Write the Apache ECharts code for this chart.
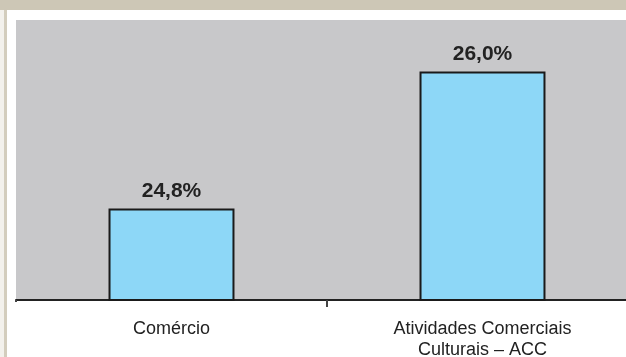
<!DOCTYPE html>
<html>
<head>
    <meta charset="UTF-8">
    <title>Comércio x ACC</title>
    <script type="text/javascript" src="https://cdn.jsdelivr.net/npm/echarts@6/dist/echarts.min.js"></script>
    <style type="text/css">
        html, body { margin: 0; padding: 0; background: #fff; }
        #chart { width: 626px; height: 357px; }
    </style>
</head>
<body>
<div id="chart"></div>
<script type="text/javascript">
    // dados
    var categorias = ['Comércio', 'Atividades Comerciais\nCulturais – ACC'];
    var valores = [24.8, 26.0];

    var chart = echarts.init(document.getElementById('chart'));

    chart.setOption({
        animation: false,
        textStyle: { fontFamily: 'Liberation Sans, Arial, sans-serif' },
        graphic: [
            // moldura bege
            { type: 'rect', left: 0, top: 0, shape: { width: 626, height: 10 }, style: { fill: '#cdc7b6' }, z: 10 },
            { type: 'rect', left: 0, top: 10, shape: { width: 4, height: 347 }, style: { fill: '#f3f1ec' }, z: 10 },
            { type: 'rect', left: 4, top: 10, shape: { width: 3, height: 347 }, style: { fill: '#d3cdbd' }, z: 10 },
            // esconde o traço da ponta esquerda do eixo
            { type: 'rect', left: 14, top: 302, shape: { width: 5, height: 9 }, style: { fill: '#fff' }, z: 10 }
        ],
        grid: {
            left: 16,
            top: 20,
            width: 622,
            height: 280,
            outerBoundsMode: 'none',
            containLabel: false,
            show: true,
            backgroundColor: '#c8c8ca',
            borderWidth: 0
        },
        xAxis: {
            type: 'category',
            data: categorias,
            axisLine: { lineStyle: { color: '#222', width: 2 } },
            axisTick: {
                show: true,
                length: 7,
                interval: 0,
                lineStyle: { color: '#444', width: 2 }
            },
            axisLabel: {
                color: '#222',
                fontSize: 18,
                lineHeight: 21,
                margin: 19
            }
        },
        yAxis: {
            type: 'value',
            min: 24,
            max: 26.45,
            show: false,
            splitLine: { show: false }
        },
        series: [{
            type: 'bar',
            data: valores,
            barWidth: '40.5%',
            itemStyle: {
                color: '#8dd7f7',
                borderColor: '#1a1a1a',
                borderWidth: 2
            },
            label: {
                show: true,
                position: 'top',
                distance: 7,
                color: '#222',
                fontSize: 21,
                fontWeight: 'bold',
                formatter: function (p) {
                    return p.value.toFixed(1).replace('.', ',') + '%';
                }
            }
        }]
    });
</script>
</body>
</html>
